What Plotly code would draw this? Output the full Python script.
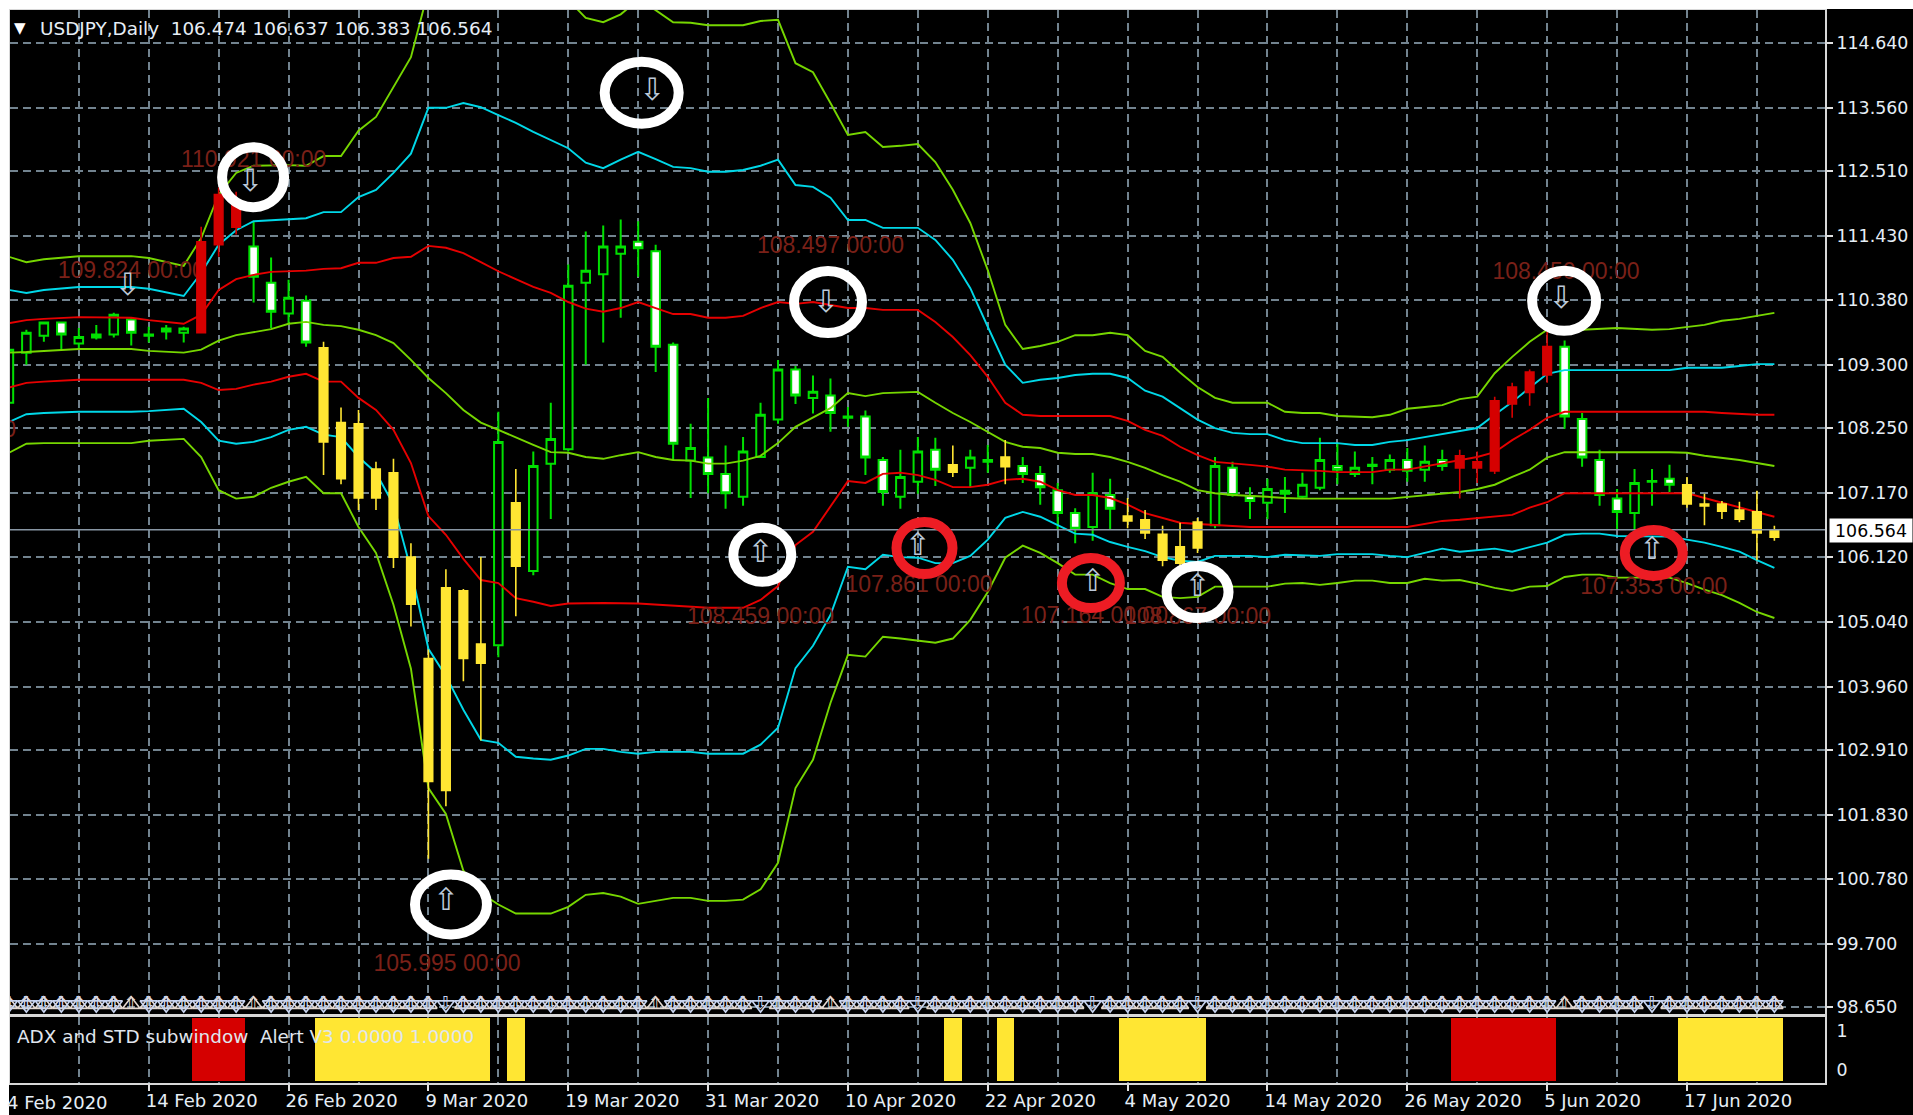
import numpy as np
import plotly.graph_objects as go
from plotly.subplots import make_subplots

SYMBOL = "USDJPY,Daily"
OHLC_LAST = ["106.474", "106.637", "106.383", "106.564"]
SUB_TITLE = "ADX and STD subwindow  Alert V3 0.0000 1.0000"
LAST_PRICE = 106.564

DATE_TICKS = [8, 16, 24, 32, 40, 48, 56, 64, 72, 80, 88, 96]
DATE_LABELS = ["14 Feb 2020", "26 Feb 2020", "9 Mar 2020", "19 Mar 2020", "31 Mar 2020", "10 Apr 2020",
               "22 Apr 2020", "4 May 2020", "14 May 2020", "26 May 2020", "5 Jun 2020", "17 Jun 2020"]
PRICE_TICKS = [114.64, 113.56, 112.51, 111.43, 110.38, 109.30, 108.25, 107.17, 106.12, 105.04,
               103.96, 102.91, 101.83, 100.78, 99.70, 98.65]

# B = green hollow, S = green white-filled, Y = yellow, R = red
STYLE = list("BBBSBSBSBSB" "RRRSSBSYYY" "YYYYYYYBYB" "BBBBBSSSBS" "SBBBSBSBSS"
             "BBSYBBYSSS" "SBSYYYYYBS" "SBSBBSBBBS" "BSRRRRRRSS" "SSBBSYYYYYY")
HIGH = [109.58,109.88,110.00,110.01,109.91,109.96,110.16,110.08,109.93,109.96,109.93,
        111.59,112.24,112.17,111.68,111.08,110.71,110.45,109.68,108.59,108.55,
        107.69,107.74,106.34,104.58,105.91,105.58,106.11,108.52,107.57,107.86,
        108.67,110.96,111.51,111.61,111.71,111.68,111.29,109.67,108.32,108.75,
        107.96,108.10,108.67,109.38,109.28,109.12,109.07,108.60,108.54,107.77,
        107.89,108.10,108.09,107.96,107.89,107.97,108.05,107.77,107.62,107.34,
        106.92,107.51,107.41,107.09,106.89,106.63,106.68,106.76,107.77,107.69,
        107.27,107.41,107.44,107.51,108.09,108.00,107.86,107.77,107.81,107.92,
        107.96,107.89,107.89,107.86,108.77,109.00,109.22,109.85,109.70,108.50,
        107.89,107.24,107.57,107.57,107.64,107.44,107.16,107.04,107.03,107.21,106.63]
BODY_TOP = [109.55,109.83,110.00,110.00,109.76,109.80,110.13,110.05,109.80,109.90,109.90,
        111.34,112.12,111.96,111.26,110.66,110.41,110.36,109.58,108.34,108.32,
        107.57,107.51,106.11,104.43,105.60,105.55,104.67,108.02,107.01,107.62,
        108.07,110.61,110.86,111.26,111.26,111.34,111.18,109.63,107.92,107.76,
        107.49,107.86,108.47,109.22,109.22,108.85,108.79,108.44,108.44,107.72,
        107.44,107.86,107.89,107.64,107.76,107.72,107.77,107.62,107.49,107.22,
        106.84,107.17,107.14,106.79,106.73,106.49,106.28,106.69,107.62,107.59,
        107.12,107.24,107.21,107.31,107.72,107.62,107.59,107.64,107.72,107.72,
        107.69,107.72,107.79,107.69,108.70,108.93,109.18,109.60,109.60,108.40,
        107.72,107.08,107.34,107.37,107.41,107.31,106.99,106.99,106.89,106.86,106.56]
BODY_BOTTOM = [108.67,109.50,109.78,109.80,109.65,109.75,109.80,109.83,109.78,109.85,109.83,
        109.83,111.29,111.58,110.76,110.18,110.15,109.67,108.02,107.41,107.09,
        107.09,106.11,105.33,102.39,102.24,104.43,104.35,104.65,105.96,105.88,
        107.66,107.90,110.66,110.80,111.14,111.23,109.60,107.99,107.71,107.49,
        107.17,107.11,107.77,108.39,108.79,108.75,108.50,108.42,107.76,107.19,
        107.11,107.36,107.56,107.52,107.59,107.69,107.61,107.49,107.27,106.84,
        106.58,106.61,106.91,106.71,106.51,106.06,106.01,106.26,106.64,107.14,
        107.04,107.01,107.16,107.11,107.26,107.56,107.49,107.62,107.56,107.54,
        107.56,107.62,107.59,107.59,107.54,108.65,108.84,109.13,108.44,107.76,
        107.14,106.86,106.84,107.36,107.31,106.99,106.96,106.87,106.74,106.51,106.44]
LOW = [108.55,109.30,109.68,109.55,109.55,109.72,109.75,109.62,109.67,109.72,109.67,
        109.82,111.09,111.46,110.33,109.91,109.96,109.60,107.47,107.32,106.89,
        106.89,105.93,104.96,101.11,101.98,104.05,103.07,104.45,105.13,105.81,
        106.74,107.86,109.30,109.67,110.08,110.76,109.18,107.72,107.09,107.17,
        106.91,106.96,107.76,108.32,108.65,108.49,108.19,108.27,107.47,106.96,
        106.91,107.16,107.29,107.44,107.27,107.51,107.32,107.34,106.98,106.56,
        106.34,106.38,106.56,106.59,106.41,105.96,105.95,106.18,106.59,107.11,
        106.74,106.74,106.84,107.09,107.22,107.32,107.44,107.32,107.51,107.36,
        107.36,107.54,107.08,107.34,107.49,108.42,108.62,109.00,108.24,107.61,
        106.96,106.56,106.56,106.96,107.19,106.93,106.64,106.74,106.69,106.06,106.38]

U3_X = [0,1,2,4,7,8,10,11,12,13,14,16,17,18,19,20,21,22,23,24,25,27,29,31,32,33,34,35,36,37,38,39,40,42,43,44,45,46,47,48,49,50,51,52,53,54,55,56,57,58,59,60,61,62,63,64,65,66,67,68,69,70,72,73,74,75,76,78,79,80,81,82,83,84,85,86,87,88,89,90,92,94,95,96,97,98,99,100,101]
U3_Y = [111.09,111.00,111.05,111.10,111.10,111.07,110.94,111.40,112.12,112.48,112.60,112.61,112.60,112.76,112.76,113.18,113.41,113.91,114.40,115.51,116.09,116.09,115.85,115.60,115.35,115.05,114.98,115.11,115.35,115.18,114.98,114.97,114.93,114.93,115.00,115.02,114.30,114.15,113.64,113.11,113.16,112.91,112.93,112.96,112.66,112.20,111.65,110.87,109.96,109.56,109.61,109.68,109.79,109.79,109.83,109.79,109.53,109.43,109.17,108.93,108.75,108.67,108.67,108.52,108.50,108.50,108.45,108.43,108.47,108.57,108.60,108.63,108.73,108.77,109.16,109.43,109.68,109.88,109.88,109.88,109.91,109.88,109.89,109.93,109.96,110.03,110.06,110.11,110.16]
U2_X = [0,1,2,4,7,8,10,11,12,13,14,15,16,17,18,19,20,21,22,23,24,25,26,27,28,29,30,31,32,33,34,35,36,37,38,39,40,41,42,43,44,45,46,47,48,49,50,52,53,54,55,56,57,58,59,60,61,62,63,64,65,66,67,68,69,70,71,72,73,74,76,77,78,79,80,81,82,83,84,85,86,87,88,89,94,95,96,98,99,100,101]
U2_Y = [110.54,110.49,110.54,110.59,110.59,110.56,110.44,110.82,111.29,111.53,111.68,111.70,111.72,111.73,111.83,111.83,112.08,112.20,112.48,112.80,113.56,113.56,113.64,113.57,113.44,113.31,113.16,113.03,112.89,112.65,112.56,112.70,112.83,112.71,112.58,112.56,112.50,112.50,112.53,112.60,112.70,112.28,112.25,112.07,111.70,111.70,111.57,111.57,111.37,111.04,110.57,109.93,109.30,109.00,109.05,109.08,109.13,109.15,109.15,109.08,108.87,108.77,108.58,108.39,108.25,108.17,108.15,108.15,108.05,108.00,108.00,107.97,107.97,108.02,108.05,108.10,108.15,108.20,108.25,108.47,108.68,108.92,109.15,109.21,109.20,109.21,109.25,109.25,109.28,109.31,109.31]
U1_X = [0,1,2,4,7,8,10,11,12,13,14,15,17,18,19,20,21,22,23,24,25,26,27,28,29,30,31,32,33,34,35,36,37,38,39,40,41,42,43,44,45,46,47,48,49,50,52,53,54,55,56,57,58,59,63,64,65,66,67,68,69,70,71,72,73,75,76,78,79,80,81,82,83,84,85,86,87,88,89,97,98,100,101]
U1_Y = [109.99,110.04,110.06,110.09,110.08,110.04,109.98,110.13,110.54,110.72,110.79,110.84,110.86,110.89,110.90,110.99,110.99,111.07,111.09,111.27,111.24,111.15,111.00,110.85,110.72,110.59,110.49,110.34,110.23,110.18,110.24,110.34,110.24,110.14,110.14,110.08,110.08,110.11,110.24,110.34,110.31,110.34,110.29,110.24,110.24,110.21,110.21,110.01,109.76,109.46,109.10,108.67,108.47,108.45,108.45,108.37,108.22,108.12,107.94,107.80,107.69,107.67,107.64,107.61,107.56,107.54,107.52,107.52,107.56,107.56,107.61,107.67,107.72,107.77,107.85,108.05,108.22,108.42,108.52,108.52,108.50,108.47,108.47]
U0_X = [0,1,4,7,8,10,11,12,13,14,15,16,17,18,19,20,21,22,23,24,25,26,27,28,29,30,31,32,33,34,35,36,37,38,39,40,41,42,43,44,45,46,47,48,49,50,52,53,54,55,56,57,58,59,60,61,62,63,64,65,66,67,68,69,70,71,72,73,74,79,80,81,82,83,84,85,86,87,88,89,95,96,97,98,99,100,101]
U0_Y = [109.50,109.51,109.56,109.56,109.53,109.50,109.55,109.70,109.79,109.84,109.89,109.98,110.01,109.96,109.94,109.88,109.79,109.66,109.38,109.08,108.83,108.55,108.34,108.22,108.09,107.97,107.85,107.84,107.77,107.74,107.80,107.85,107.77,107.72,107.71,107.66,107.66,107.71,107.79,108.00,108.27,108.43,108.58,108.83,108.78,108.83,108.85,108.67,108.50,108.35,108.19,108.02,107.94,107.92,107.84,107.82,107.82,107.77,107.69,107.59,107.47,107.36,107.22,107.17,107.14,107.13,107.11,107.09,107.08,107.08,107.11,107.14,107.17,107.19,107.24,107.31,107.44,107.56,107.76,107.85,107.85,107.84,107.79,107.76,107.72,107.67,107.62]
L1_X = [0,1,2,4,10,11,12,13,14,15,16,17,18,19,20,21,22,23,24,25,26,27,28,29,30,31,32,34,36,38,39,40,42,43,44,45,46,47,48,49,50,51,52,53,54,55,56,57,58,59,60,61,62,63,64,65,66,67,68,69,70,71,80,81,82,83,84,85,86,87,88,89,96,97,98,99,100,101]
L1_Y = [108.92,109.00,109.02,109.05,109.05,109.00,108.88,108.90,108.97,109.02,109.10,109.15,109.02,109.02,108.75,108.55,108.22,107.67,106.79,106.48,106.08,105.73,105.68,105.43,105.37,105.30,105.34,105.35,105.34,105.30,105.29,105.27,105.27,105.40,105.63,106.31,106.53,106.94,107.37,107.34,107.49,107.51,107.47,107.39,107.27,107.27,107.31,107.39,107.41,107.36,107.22,107.14,107.14,107.09,106.98,106.84,106.76,106.68,106.66,106.64,106.63,106.61,106.61,106.66,106.71,106.73,106.76,106.78,106.81,106.93,107.02,107.17,107.17,107.09,107.01,106.94,106.86,106.78]
L2_X = [0,1,2,4,7,8,10,11,12,13,14,15,16,17,18,19,20,21,22,23,24,25,26,27,28,29,30,31,32,33,34,35,36,37,39,40,42,43,44,45,46,47,48,49,50,51,52,53,54,55,56,57,58,59,60,61,62,63,64,65,66,67,68,69,71,72,73,75,76,78,79,80,81,82,83,85,86,87,88,89,90,91,92,95,96,97,98,99,100,101]
L2_Y = [108.35,108.48,108.50,108.52,108.52,108.53,108.57,108.35,108.04,107.99,108.02,108.10,108.22,108.27,108.14,108.10,107.77,107.51,106.98,105.90,104.59,104.14,103.58,103.08,103.03,102.80,102.77,102.75,102.82,102.93,102.93,102.88,102.85,102.88,102.88,102.85,102.85,103.00,103.28,104.27,104.64,105.15,105.95,105.91,106.15,106.11,106.10,106.01,106.01,106.13,106.40,106.76,106.86,106.78,106.64,106.50,106.48,106.36,106.28,106.21,106.11,106.05,106.03,106.13,106.13,106.11,106.15,106.13,106.16,106.16,106.13,106.11,106.18,106.25,106.20,106.25,106.20,106.28,106.35,106.48,106.50,106.50,106.46,106.45,106.40,106.35,106.28,106.20,106.06,105.93]
L3_X = [0,1,2,7,8,10,11,12,13,14,15,16,17,18,19,20,21,22,23,24,25,26,27,28,29,31,32,33,34,35,36,37,38,39,40,41,42,43,44,45,46,47,48,49,50,51,52,53,54,55,56,57,58,59,60,61,62,63,64,65,66,67,68,69,72,73,74,75,76,77,78,79,80,81,82,83,84,85,86,87,88,89,90,91,92,95,96,97,98,99,100,101]
L3_Y = [107.84,107.99,108.00,108.00,108.04,108.07,107.77,107.22,107.08,107.11,107.26,107.36,107.44,107.17,107.17,106.61,106.18,105.32,104.26,102.28,101.85,100.91,100.54,100.35,100.20,100.20,100.31,100.51,100.54,100.48,100.36,100.41,100.46,100.46,100.41,100.41,100.43,100.60,101.04,102.28,102.75,103.69,104.49,104.46,104.79,104.76,104.72,104.69,104.76,105.07,105.53,106.10,106.30,106.18,106.01,105.82,105.82,105.68,105.58,105.58,105.45,105.43,105.45,105.62,105.62,105.67,105.68,105.65,105.68,105.72,105.72,105.68,105.68,105.75,105.72,105.73,105.67,105.60,105.55,105.62,105.63,105.78,105.82,105.82,105.77,105.77,105.68,105.57,105.48,105.35,105.20,105.10]

DOWN_SIGNAL_BARS = [7, 14, 37, 47, 89]
DOWN_ARROW_BAR = [6.8, 13.8, 36.8, 46.75, 88.8]
DOWN_ARROW_PRICE = [110.59, 112.31, 113.82, 110.31, 110.37]
UP_ARROW_BAR = [25, 43, 52, 62, 68, 94]
UP_ARROW_PRICE = [100.39, 106.15, 106.28, 105.68, 105.60, 106.20]
BOTTOM_ROW_PRICE = 98.69

CIRCLE_BAR = [13.97, 36.2, 46.86, 88.97, 25.29, 43.1, 68.0, 52.38, 61.9, 94.1]
CIRCLE_PRICE = [112.41, 113.81, 110.34, 110.36, 100.35, 106.15, 105.53, 106.26, 105.68, 106.18]
CIRCLE_COLOR = ["white"] * 7 + ["#ED1C24"] * 3
CIRCLE_RX = [31, 37, 34, 32, 36, 29, 31, 28, 29, 29]
CIRCLE_RY = [30, 31, 31, 30, 30, 27, 26, 26, 25, 23]

LABEL_BAR = [7.0, 14.0, 47.0, 89.08, 25.06, 43.0, 52.07, 62.1, 68.0, 94.1, -3.8]
LABEL_PRICE = [110.84, 112.68, 111.25, 110.81, 99.35, 105.09, 105.62, 105.12, 105.09, 105.60, 108.19]
LABEL_TEXT = ["109.824 00:00", "110.921 00:00", "108.497 00:00", "108.450 00:00", "105.995 00:00",
              "108.459 00:00", "107.861 00:00", "107.164 00:00", "108.867 00:00", "107.353 00:00", "109.000 00:00"]

# ---- drawing ----
W, H = 1913, 1115
PL, PR, PT, PB = 10, 1825, 10, 1083
MAIN_BOTTOM, SUB_TOP = 1014, 1017
GRID = "#72838F"
TXT = "#E6EEF6"
FONT = "DejaVu Sans"
GREEN, YELLOW, RED = "#00E000", "#FFE633", "#D50000"
C_OLIVE, C_CYAN, C_LINE_RED = "#76D600", "#00D8E8", "#E60000"

def px(x):
    return (x - PL) / (PR - PL)

def py(y):
    return (PB - y) / (PB - PT)

style = np.array(STYLE)
idx = np.arange(len(HIGH))
hi, lo, top, bot = map(np.array, (HIGH, LOW, BODY_TOP, BODY_BOTTOM))
opn = np.where(style == "B", bot, top)
cls = np.where(style == "B", top, bot)

fig = make_subplots(rows=2, cols=1, shared_xaxes=True)

def candles(mask, inc_fill, dec_fill, color, width, yaxis):
    fig.add_trace(go.Candlestick(
        x=idx[mask], open=opn[mask], high=hi[mask], low=lo[mask], close=cls[mask],
        increasing=dict(fillcolor=inc_fill, line=dict(color=color, width=width)),
        decreasing=dict(fillcolor=dec_fill, line=dict(color=color, width=width)),
        showlegend=False, hoverinfo="skip", xaxis="x", yaxis=yaxis))

candles(np.isin(style, ["B", "S"]), "black", "white", GREEN, 2, "y")

for xs, ys, c in [(U3_X, U3_Y, C_OLIVE), (U2_X, U2_Y, C_CYAN), (U1_X, U1_Y, C_LINE_RED), (U0_X, U0_Y, C_OLIVE),
                  (L1_X, L1_Y, C_LINE_RED), (L2_X, L2_Y, C_CYAN), (L3_X, L3_Y, C_OLIVE)]:
    fig.add_trace(go.Scatter(x=xs, y=ys, mode="lines", line=dict(color=c, width=1.9),
                             showlegend=False, hoverinfo="skip", xaxis="x", yaxis="y"))

candles(style == "Y", YELLOW, YELLOW, YELLOW, 1.6, "y3")
candles(style == "R", RED, RED, RED, 1.6, "y3")

fig.add_trace(go.Scatter(x=LABEL_BAR, y=LABEL_PRICE, text=LABEL_TEXT, mode="text", textposition="middle center",
                         textfont=dict(family="Liberation Sans", size=23, color="#7A2018"),
                         showlegend=False, hoverinfo="skip", xaxis="x", yaxis="y"))

row_up = [i for i in idx if i not in UP_ARROW_BAR]
row_down = [i for i in idx if i not in DOWN_SIGNAL_BARS]
for xs, sym, ch, col in [(row_up, "triangle-up-open", "\u21e7", "#E4D8D0"),
                         (row_down, "triangle-down-open", "\u21e9", "#C8D4F0")]:
    fig.add_trace(go.Scatter(x=xs, y=[BOTTOM_ROW_PRICE] * len(xs), mode="markers+text", text=[ch] * len(xs),
                             textposition="middle center", textfont=dict(family=FONT, size=18, color=col),
                             marker=dict(symbol=sym, size=15, color=col, line=dict(width=1.6, color=col)),
                             showlegend=False, hoverinfo="skip", xaxis="x", yaxis="y"))
for xs, ys, ch in [(DOWN_ARROW_BAR, DOWN_ARROW_PRICE, "\u21e9"), (UP_ARROW_BAR, UP_ARROW_PRICE, "\u21e7")]:
    fig.add_trace(go.Scatter(x=xs, y=ys, text=[ch] * len(xs), mode="text", textposition="middle center",
                             textfont=dict(family=FONT, size=31, color="#BCC8D8"),
                             showlegend=False, hoverinfo="skip", xaxis="x", yaxis="y"))

for st, color in [("Y", YELLOW), ("R", RED)]:
    fig.add_trace(go.Bar(x=idx[style == st], y=np.ones((style == st).sum()), width=1, marker=dict(color=color, line=dict(width=0)),
                         showlegend=False, hoverinfo="skip", xaxis="x2", yaxis="y2"))

xr = [(PL - 8.9) / 17.48, (PR - 8.9) / 17.48]
common_x = dict(range=xr, showgrid=True, gridcolor=GRID, griddash="8px,5px", gridwidth=1.5, automargin=False,
                minor=dict(tickmode="linear", tick0=0, dtick=4, showgrid=True, gridcolor=GRID,
                           griddash="8px,5px", gridwidth=1.5, ticks=""),
                tickmode="array", tickvals=DATE_TICKS, zeroline=False,
                showline=True, linecolor="#D8D8D8", linewidth=2, mirror=True)
y_top = 114.64 + (42.7 - PT) / 60.32
y_bot = 98.65 - (MAIN_BOTTOM - 1007) / 60.32

fig.update_layout(
    width=W, height=H, autosize=False, paper_bgcolor="black", plot_bgcolor="black",
    margin=dict(l=PL, r=W - PR, t=PT, b=H - PB), showlegend=False, bargap=0, barmode="overlay",
    xaxis=dict(**common_x, ticktext=[""] * len(DATE_TICKS), ticks="", rangeslider=dict(visible=False),
               anchor="y", matches="x2"),
    xaxis2=dict(**common_x, ticktext=DATE_LABELS, ticks="outside", ticklen=6, tickcolor="#E0E0E0", tickwidth=2,
                ticklabelposition="outside right", ticklabelshift=-5, tickfont=dict(family=FONT, size=18, color=TXT),
                anchor="y2", rangeslider=dict(visible=False)),
    yaxis=dict(domain=[py(MAIN_BOTTOM), 1], range=[y_bot, y_top], side="right", tickmode="array", automargin=False,
               tickvals=PRICE_TICKS, ticktext=[f"{v:.3f}" for v in PRICE_TICKS], ticks="outside", ticklen=6,
               tickcolor="#E0E0E0", tickwidth=2, tickfont=dict(family=FONT, size=17.4, color=TXT),
               ticklabelstandoff=0, showgrid=True, gridcolor=GRID, griddash="8px,5px", gridwidth=1.5, zeroline=False,
               showline=True, linecolor="#D8D8D8", linewidth=2, mirror=True, anchor="x"),
    yaxis2=dict(domain=[0, py(SUB_TOP)], range=[-0.03, 1.016], side="right", tickmode="array", automargin=False,
                tickvals=[0.175, 0.79], ticktext=["0", "1"], ticks="", showgrid=False, zeroline=False,
                tickfont=dict(family=FONT, size=17.4, color=TXT), ticklabelstandoff=6,
                showline=True, linecolor="#D8D8D8", linewidth=2, mirror=True, anchor="x2"),
    yaxis3=dict(overlaying="y", matches="y", side="right", showgrid=False, showticklabels=False, ticks="",
                zeroline=False, showline=False, anchor="x", automargin=False),
)

shapes = [dict(type="line", xref="paper", yref="y", x0=0, x1=1, y0=LAST_PRICE, y1=LAST_PRICE,
               line=dict(color="#8896A4", width=1.6), layer="above")]
for b, p, c, rx, ry in zip(CIRCLE_BAR, CIRCLE_PRICE, CIRCLE_COLOR, CIRCLE_RX, CIRCLE_RY):
    shapes.append(dict(type="circle", xref="x", yref="y", xsizemode="pixel", ysizemode="pixel",
                       xanchor=b, yanchor=p, x0=-rx, x1=rx, y0=-ry, y1=ry,
                       line=dict(color=c, width=10), layer="above"))
shapes.append(dict(type="rect", xref="paper", yref="paper", x0=px(0), x1=px(W), y0=py(0), y1=py(PT - 1),
                   fillcolor="white", line=dict(width=0), layer="above"))
shapes.append(dict(type="rect", xref="paper", yref="paper", x0=px(0), x1=px(PL - 1), y0=py(H), y1=py(0),
                   fillcolor="white", line=dict(width=0), layer="above"))
fig.update_layout(shapes=shapes)

def note(text, x, y, size=18.4, color=TXT, family=FONT, **kw):
    fig.add_annotation(text=text, xref="paper", yref="paper", x=px(x), y=py(y), xanchor="left", yanchor="middle",
                       showarrow=False, font=dict(family=family, size=size, color=color), **kw)

note("\u25bc", 12, 28, size=15, color="white")
note(SYMBOL + "  " + " ".join(OHLC_LAST), 38, 28)
note(SUB_TITLE, 15, 1036, color="#E0E6EE")
note("4 Feb 2020", 5, 1102, size=18)
fig.add_annotation(text=f"{LAST_PRICE:.3f}", xref="paper", yref="paper", x=px(1829), y=py(530.5), xanchor="left",
                   yanchor="middle", showarrow=False, font=dict(family=FONT, size=17.4, color="black"),
                   bgcolor="white", width=80, height=21)

fig.write_html("out.html", config=dict(displayModeBar=False),
               post_script="document.body.style.margin='0';document.body.style.background='black';")
